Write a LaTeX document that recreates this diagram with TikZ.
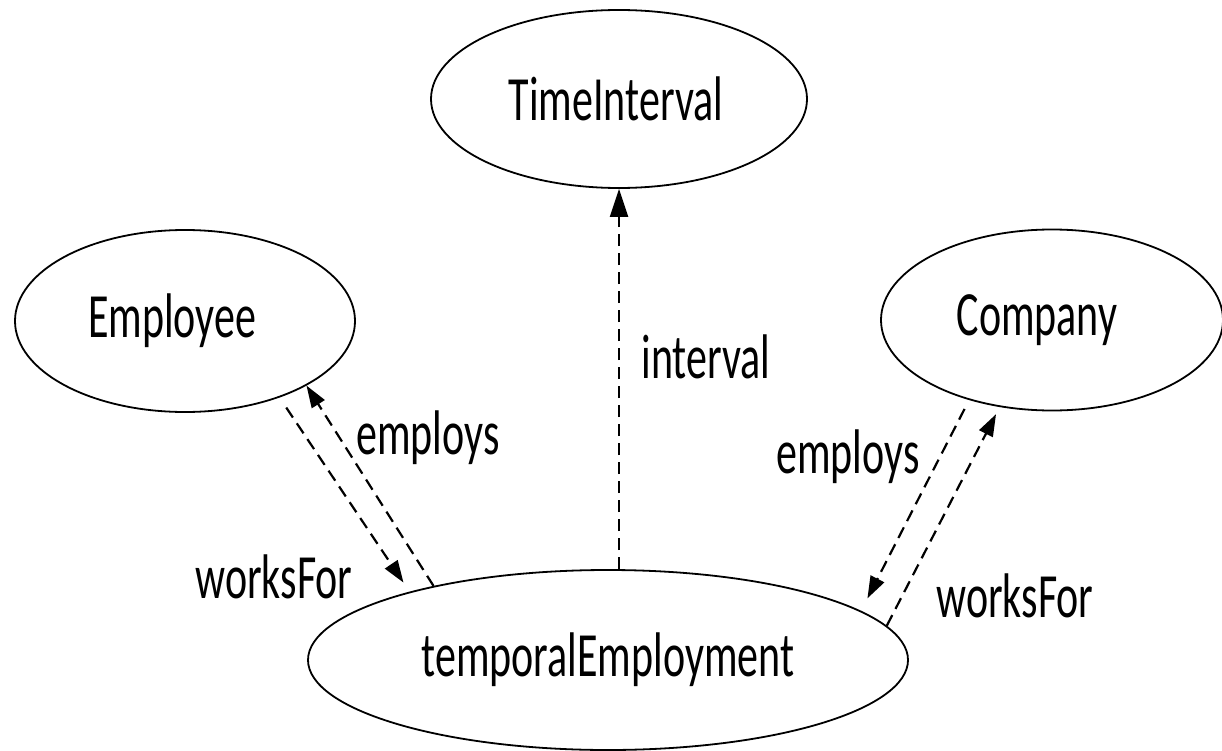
\documentclass[tikz,border=0pt]{standalone}
\usepackage{fontspec}
\setmainfont{Carlito}
\usepackage{graphicx}
\usetikzlibrary{shapes.geometric,arrows.meta}
\newcommand{\tall}[1]{\scalebox{1}[1.5]{#1}}
\newcommand{\nudge}[2]{\hspace*{#1}#2\hspace*{-#1}}
\begin{document}
\begin{tikzpicture}[x=1pt,y=-1pt,
  cls/.style={ellipse,draw,line width=1.8pt,inner sep=0pt,font=\fontsize{42}{50}\selectfont},
  lbl/.style={inner sep=0pt,font=\fontsize{42}{50}\selectfont},
  rel/.style={dash pattern=on 12pt off 7pt,line width=2.2pt,-{Triangle[length=22pt,width=15pt]}}]
\useasboundingbox[fill=white] (0,0) rectangle (1222,751);
% classes
\node[cls,minimum width=376pt,minimum height=178pt] (ti) at (619,99) {\nudge{-3pt}{\tall{TimeInterval}}};
\node[cls,minimum width=340pt,minimum height=182pt] (emp) at (185,321) {\nudge{-13pt}{\tall{Employee}}};
\node[cls,minimum width=342pt,minimum height=181pt] (com) at (1052,320) {\nudge{-15pt}{\tall{Company}}};
\node[cls,minimum width=600pt,minimum height=180pt] (te) at (608,660) {\tall{temporalEmployment}};
% connectors
\draw[rel,-{Triangle[length=28pt,width=18pt]}] (te.north -| ti.south) -- (ti.south);
\draw[rel,shorten <=12pt,shorten >=11pt] (emp.-39.3) -- (te.161.3);
\draw[rel] (te.157.4) -- (emp.-28.5);
\draw[rel,shorten <=10pt,shorten >=14pt] (com.-136.4) -- (te.11.3);
\draw[rel,shorten >=8pt] (te.7.7) -- (com.-121.9);
% labels
\node[lbl] (lint) at (706,357) {\tall{interval}};
\node[lbl] (lemp1) at (428,438) {\tall{employs}};
\node[lbl] (lwf1) at (274,577) {\tall{worksFor}};
\node[lbl] (lemp2) at (848,457) {\tall{employs}};
\node[lbl] (lwf2) at (1015,596) {\tall{worksFor}};
\end{tikzpicture}
\end{document}
